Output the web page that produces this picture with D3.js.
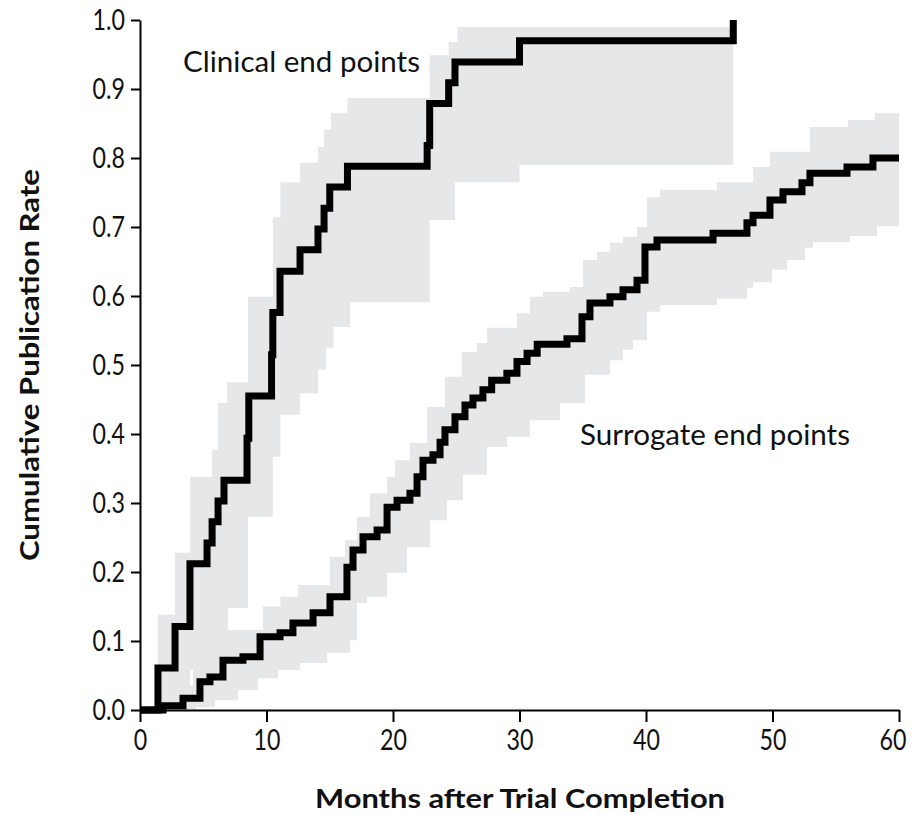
<!DOCTYPE html>
<html>
<head>
<meta charset="utf-8">
<script src="https://cdn.jsdelivr.net/npm/d3@7"></script>
<style>
  body { margin: 0; background: #fff; }
  text { font-family: Lato, "Open Sans", sans-serif; fill: #111; }
</style>
</head>
<body>
<svg id="chart" width="916" height="815"></svg>
<script>
// step points: [month, cumulative rate after the step]
var clinicalSteps = [
  [1.42, 0.061], [2.77, 0.121], [3.95, 0.212], [5.3, 0.242], [5.7, 0.273],
  [6.17, 0.303], [6.64, 0.333], [8.46, 0.394], [8.6, 0.455], [10.4, 0.515],
  [10.5, 0.576], [11.07, 0.636], [12.65, 0.667], [14.07, 0.697], [14.55, 0.727],
  [15.0, 0.758], [16.4, 0.788], [22.7, 0.818], [22.9, 0.879], [24.4, 0.909],
  [24.9, 0.939], [30.0, 0.970], [46.9, 1.0]
];
var clinicalUpper = [
  [1.42, 0.138], [2.77, 0.228], [3.95, 0.338], [5.69, 0.377], [6.17, 0.445],
  [6.88, 0.475], [8.54, 0.599], [10.5, 0.714], [11.1, 0.765], [12.65, 0.793],
  [14.07, 0.816], [14.55, 0.841], [15.1, 0.865], [16.4, 0.887], [22.9, 0.949],
  [24.4, 0.968], [25.1, 0.99]
];
var clinicalLower = [
  [3.95, 0.058], [6.3, 0.091], [6.95, 0.148], [8.54, 0.28], [10.5, 0.367],
  [11.1, 0.428], [12.65, 0.459], [14.07, 0.493], [14.7, 0.525], [15.3, 0.555],
  [16.6, 0.591], [22.9, 0.71], [24.9, 0.765], [30.0, 0.79]
];
var clinicalEnd = 46.9;

var surrogateSteps = [
  [1.82, 0.006], [3.4, 0.017], [4.74, 0.041], [5.53, 0.048], [6.56, 0.072],
  [8.14, 0.077], [9.49, 0.106], [11.07, 0.112], [12.09, 0.126], [13.68, 0.141],
  [15.02, 0.164], [16.36, 0.207], [16.84, 0.232], [17.63, 0.251], [18.74, 0.261],
  [19.53, 0.294], [20.32, 0.304], [21.34, 0.314], [21.9, 0.338], [22.37, 0.362],
  [23.16, 0.37], [23.72, 0.388], [24.11, 0.406], [24.9, 0.425], [25.69, 0.442],
  [26.32, 0.452], [27.11, 0.464], [27.8, 0.478], [29.0, 0.488], [29.8, 0.505],
  [30.6, 0.517], [31.4, 0.53], [33.75, 0.538], [34.94, 0.57], [35.57, 0.59],
  [37.15, 0.599], [38.18, 0.609], [39.29, 0.623], [39.92, 0.671], [40.87, 0.681],
  [45.3, 0.691], [47.98, 0.706], [48.46, 0.717], [49.8, 0.739], [50.83, 0.751],
  [52.33, 0.764], [52.96, 0.778], [55.89, 0.787], [57.94, 0.80]
];
var surrogateUpper = [
  [1.58, 0.014], [3.4, 0.036], [4.19, 0.058], [6.17, 0.116], [9.72, 0.15],
  [11.1, 0.164], [12.5, 0.181], [15.02, 0.222], [16.2, 0.246], [17.15, 0.28],
  [18.18, 0.314], [19.53, 0.338], [20.16, 0.362], [21.34, 0.387], [22.69, 0.439],
  [24.11, 0.483], [25.45, 0.519], [26.64, 0.532], [27.43, 0.554], [29.8, 0.575],
  [30.83, 0.599], [31.86, 0.606], [33.99, 0.613], [35.02, 0.652], [36.13, 0.664],
  [37.15, 0.677], [38.18, 0.686], [39.29, 0.70], [40.08, 0.743], [41.11, 0.754],
  [45.61, 0.765], [48.46, 0.787], [49.8, 0.809], [52.96, 0.845], [55.97, 0.855],
  [58.1, 0.865]
];
var surrogateLower = [
  [4.43, 0.004], [5.93, 0.014], [7.75, 0.029], [9.33, 0.046], [10.91, 0.058],
  [12.65, 0.068], [14.78, 0.083], [16.6, 0.101], [17.15, 0.155], [17.94, 0.164],
  [19.53, 0.199], [21.11, 0.236], [22.92, 0.275], [24.27, 0.304], [25.53, 0.341],
  [27.43, 0.381], [29.01, 0.396], [30.83, 0.42], [33.2, 0.445], [35.18, 0.486],
  [37.15, 0.507], [38.18, 0.522], [38.97, 0.536], [40.08, 0.577], [41.11, 0.587],
  [45.61, 0.596], [47.98, 0.612], [48.46, 0.62], [49.96, 0.638], [51.15, 0.652],
  [52.57, 0.67], [53.2, 0.678], [56.13, 0.687], [58.26, 0.701]
];
var surrogateEnd = 60;

var xTicks = [0, 10, 20, 30, 40, 50, 60];
var yTicks = [0, 0.1, 0.2, 0.3, 0.4, 0.5, 0.6, 0.7, 0.8, 0.9, 1.0];

var svg = d3.select("#chart");
var x = d3.scaleLinear().domain([0, 60]).range([140, 899]);
var y = d3.scaleLinear().domain([0, 1]).range([710, 20]);

// value of a step function at month t
function stepAt(steps, t) {
  var v = 0;
  steps.forEach(function (s) { if (s[0] <= t) v = s[1]; });
  return v;
}

function bandRows(upper, lower, end) {
  var times = [0].concat(upper.map(function (d) { return d[0]; }), lower.map(function (d) { return d[0]; }));
  times = Array.from(new Set(times)).filter(function (t) { return t <= end; }).sort(d3.ascending);
  times.push(end);
  return times.map(function (t) { return { t: t, lo: stepAt(lower, t), hi: stepAt(upper, t) }; });
}

function curveRows(steps, end) {
  var rows = [[0, 0]].concat(steps);
  if (rows[rows.length - 1][0] < end) rows.push([end, rows[rows.length - 1][1]]);
  return rows;
}

var area = d3.area()
  .curve(d3.curveStepAfter)
  .x(function (d) { return x(d.t); })
  .y0(function (d) { return y(d.lo); })
  .y1(function (d) { return y(d.hi); });

var line = d3.line()
  .curve(d3.curveStepAfter)
  .x(function (d) { return x(d[0]); })
  .y(function (d) { return y(d[1]); });

svg.append("path").datum(bandRows(clinicalUpper, clinicalLower, clinicalEnd))
  .attr("d", area).attr("fill", "#e6e7e8");
svg.append("path").datum(bandRows(surrogateUpper, surrogateLower, surrogateEnd))
  .attr("d", area).attr("fill", "#e6e7e8");

// axes
var yAxis = svg.append("g")
  .attr("transform", "translate(140,0)")
  .call(d3.axisLeft(y).tickValues(yTicks).tickFormat(d3.format(".1f")).tickSize(9).tickSizeOuter(0).tickPadding(6));
var xAxis = svg.append("g")
  .attr("transform", "translate(0,710)")
  .call(d3.axisBottom(x).tickValues(xTicks).tickSize(12).tickSizeOuter(0).tickPadding(7));

[yAxis, xAxis].forEach(function (g) {
  g.select(".domain").attr("stroke", "#000").attr("stroke-width", 2);
  g.selectAll(".tick line").attr("stroke", "#000").attr("stroke-width", 2);
  g.selectAll(".tick text").attr("font-family", "Lato, sans-serif").attr("font-size", 29).attr("fill", "#111")
    .each(function () {
      var w = this.getComputedTextLength();
      d3.select(this).attr("textLength", w * 0.8).attr("lengthAdjust", "spacingAndGlyphs");
    });
});
// keep the last x label inside the page
xAxis.selectAll(".tick text").filter(function (d) { return d === 60; })
  .attr("text-anchor", "end").attr("x", 7);

svg.append("path").datum(curveRows(clinicalSteps, clinicalEnd))
  .attr("d", line).attr("fill", "none").attr("stroke", "#000").attr("stroke-width", 7);
svg.append("path").datum(curveRows(surrogateSteps, surrogateEnd))
  .attr("d", line).attr("fill", "none").attr("stroke", "#000").attr("stroke-width", 7);

// labels
svg.append("text").attr("x", 183).attr("y", 72).attr("font-size", 28)
  .attr("textLength", 237).attr("lengthAdjust", "spacingAndGlyphs").text("Clinical end points");
svg.append("text").attr("x", 580).attr("y", 445).attr("font-size", 28)
  .attr("textLength", 270).attr("lengthAdjust", "spacingAndGlyphs").text("Surrogate end points");

svg.append("text").attr("x", 520).attr("y", 808).attr("text-anchor", "middle")
  .attr("font-size", 27).attr("font-weight", "bold")
  .attr("textLength", 410).attr("lengthAdjust", "spacingAndGlyphs").text("Months after Trial Completion");
svg.append("text").attr("transform", "translate(39,365) rotate(-90)").attr("text-anchor", "middle")
  .attr("font-size", 27).attr("font-weight", "bold")
  .attr("textLength", 392).attr("lengthAdjust", "spacingAndGlyphs").text("Cumulative Publication Rate");
</script>
</body>
</html>
